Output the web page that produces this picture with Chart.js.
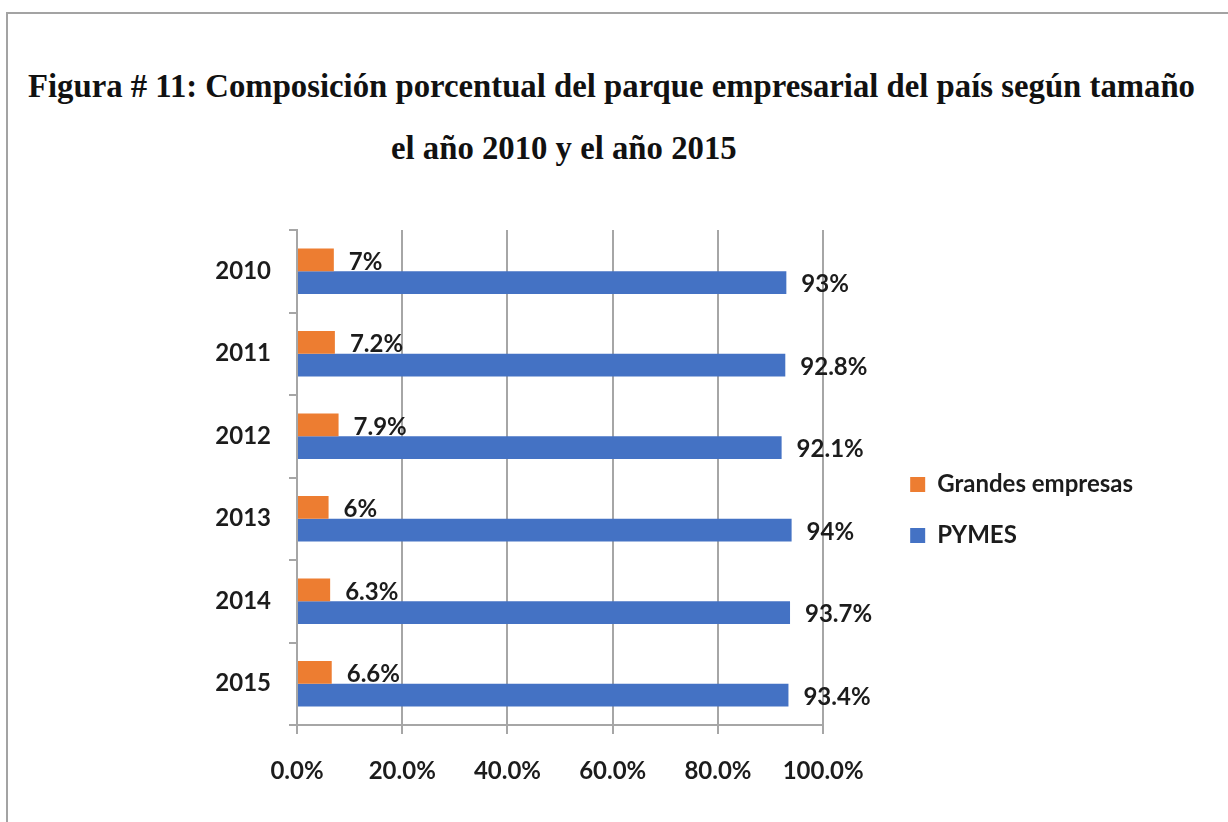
<!DOCTYPE html>
<html lang="es">
<head>
<meta charset="utf-8">
<title>Figura 11</title>
<script src="https://cdn.jsdelivr.net/npm/chart.js@4/dist/chart.umd.min.js"></script>
<style>
  html, body { margin: 0; padding: 0; background: #fff; }
  #page { position: relative; width: 1228px; height: 822px; overflow: hidden; }
  #frame { position: absolute; left: 6px; top: 12px; right: -4px; bottom: -4px; border: 2px solid #a3a3a3; }
  .title { position: absolute; white-space: nowrap; font-family: "Liberation Serif", "Times New Roman", serif;
           font-weight: bold; font-size: 33px; line-height: 33px; color: #111; transform-origin: 0 0; }
  #chart { position: absolute; left: 0; top: 0; }
</style>
</head>
<body>
<div id="page">
  <div id="frame"></div>
  <div class="title" id="t1">Figura # 11: Composición porcentual del parque empresarial del país según tamaño</div>
  <div class="title" id="t2">el año 2010 y el año 2015</div>
  <canvas id="chart" width="1228" height="822"></canvas>
</div>
<script>
/* Data (percent of companies by size). */
var years = ['2010', '2011', '2012', '2013', '2014', '2015'];
var grandes = [7, 7.2, 7.9, 6, 6.3, 6.6];
var pymes = [93, 92.8, 92.1, 94, 93.7, 93.4];
var seriesNames = ['Grandes empresas', 'PYMES'];
var xTicks = [0, 20, 40, 60, 80, 100];

var ORANGE = '#ed7d31', BLUE = '#4472c4';
var GRID = '#a6a6a6', TEXT = '#1c1c1c';
var FONT = { family: 'Lato, "Open Sans", sans-serif', size: 24, weight: 'bold' };

/* Title: squeeze the first line to the width it has in the figure, same factor for line 2. */
(function () {
  var t1 = document.getElementById('t1'), t2 = document.getElementById('t2');
  var k = 1167 / t1.getBoundingClientRect().width;
  t1.style.left = '28px'; t1.style.top = '70px';
  t1.style.transform = 'scaleX(' + k + ')';
  var w2 = t2.getBoundingClientRect().width * k;
  t2.style.left = (564 - w2 / 2) + 'px'; t2.style.top = '132px';
  t2.style.transform = 'scaleX(' + k + ')';
})();

function pct(v) { return v + '%'; }

/* Value labels next to the bar ends (no datalabels plugin available offline).
 * Orange labels go under the bars so the blue bar can overlap them, like the original. */
function drawLabels(chart, idx) {
  var ctx = chart.ctx;
  var ds = chart.data.datasets[idx];
  ctx.save();
  ctx.font = FONT.weight + ' ' + FONT.size + 'px ' + FONT.family;
  ctx.fillStyle = TEXT;
  ctx.textAlign = 'left';
  ctx.textBaseline = 'middle';
  chart.getDatasetMeta(idx).data.forEach(function (bar, j) {
    ctx.fillText(pct(ds.data[j]), bar.x + 15, bar.y + 2);
  });
  ctx.restore();
}
var valueLabels = {
  id: 'valueLabels',
  beforeDatasetsDraw: function (chart) { drawLabels(chart, 0); },
  afterDatasetsDraw: function (chart) { drawLabels(chart, 1); }
};

Chart.defaults.font.family = FONT.family;
Chart.defaults.color = TEXT;

new Chart(document.getElementById('chart'), {
  type: 'bar',
  data: {
    labels: years,
    datasets: [
      { label: seriesNames[0], data: grandes, backgroundColor: ORANGE },
      { label: seriesNames[1], data: pymes, backgroundColor: BLUE }
    ]
  },
  options: {
    indexAxis: 'y',
    responsive: false,
    animation: false,
    categoryPercentage: 0.55,
    barPercentage: 1.0,
    layout: { padding: { top: 230, left: 0, right: 85, bottom: 32 } },
    plugins: {
      legend: {
        position: 'right',
        maxWidth: 340,
        labels: { font: FONT, color: TEXT, boxWidth: 15, boxHeight: 15, padding: 27 }
      },
      tooltip: { enabled: false }
    },
    scales: {
      x: {
        min: 0, max: 100,
        afterBuildTicks: function (s) { s.ticks = xTicks.map(function (v) { return { value: v }; }); },
        grid: { color: GRID, lineWidth: 2, tickLength: 9 },
        border: { color: GRID, width: 2 },
        ticks: { font: FONT, color: TEXT, padding: 23, callback: function (v) { return v.toFixed(1) + '%'; } },
        afterFit: function (s) { s.height = 65; }
      },
      y: {
        grid: { offset: true, drawOnChartArea: false, color: GRID, lineWidth: 2, tickLength: 8 },
        border: { color: GRID, width: 2 },
        ticks: { font: FONT, color: TEXT, padding: 18 },
        afterFit: function (s) { s.width = 297; }
      },
      /* empty axis: only keeps the gap between the plot and the legend */
      gap: {
        type: 'linear', position: 'right', display: true,
        grid: { display: false }, border: { display: false }, ticks: { display: false },
        afterFit: function (s) { s.width = 60; }
      }
    }
  },
  plugins: [valueLabels]
});
</script>
</body>
</html>
